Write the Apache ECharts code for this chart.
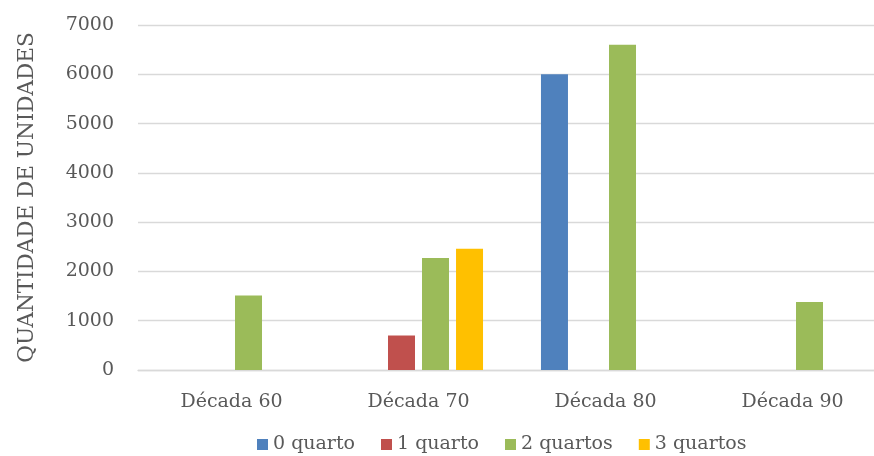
<!DOCTYPE html>
<html>
<head>
<meta charset="utf-8">
<script src="https://cdn.jsdelivr.net/npm/echarts@6/dist/echarts.min.js"></script>
<style>html,body{margin:0;padding:0;background:#fff}#c{width:874px;height:456px}</style>
</head>
<body>
<div id="c"></div>
<script>
const categories = ['Década 60', 'Década 70', 'Década 80', 'Década 90'];
const seriesNames = ['0 quarto', '1 quarto', '2 quartos', '3 quartos'];
const q0 = [null, null, 6000, null];
const q1 = [null, 700, null, null];
const q2 = [1510, 2270, 6600, 1380];
const q3 = [null, 2460, null, null];
const colors = ['#4F81BD', '#C0504D', '#9BBB59', '#FFC000'];
const yTicks = { min: 0, max: 7000, interval: 1000 };
const yTitle = 'QUANTIDADE DE UNIDADES';

const font = 'DejaVu Serif';
const txt = '#595959';
const chart = echarts.init(document.getElementById('c'), null, { renderer: 'canvas' });
const values = [q0, q1, q2, q3];
chart.setOption({
  animation: false,
  color: colors,
  grid: { left: 138, width: 748, top: 25, bottom: 86, containLabel: false, outerBoundsMode: 'none' },
  legend: {
    data: seriesNames,
    bottom: -3,
    left: 252,
    itemWidth: 11,
    itemHeight: 11,
    itemGap: 26,
    icon: 'rect',
    textStyle: { fontFamily: font, fontSize: 19, color: txt }
  },
  xAxis: {
    type: 'category',
    data: categories,
    axisLine: { lineStyle: { color: '#d9d9d9', width: 1.3 } },
    axisTick: { show: false },
    axisLabel: { fontFamily: font, fontSize: 19, color: txt, margin: 23 }
  },
  yAxis: {
    type: 'value',
    min: yTicks.min, max: yTicks.max, interval: yTicks.interval,
    name: yTitle,
    nameLocation: 'middle',
    nameRotate: 90,
    nameGap: 100,
    nameTextStyle: { fontFamily: font, fontSize: 21.5, color: txt },
    axisLine: { show: false },
    axisTick: { show: false },
    splitLine: { lineStyle: { color: '#d9d9d9', width: 1.3 } },
    axisLabel: { fontFamily: font, fontSize: 19, color: txt, margin: 24, formatter: v => String(v) }
  },
  series: seriesNames.map((n, i) => ({
    name: n,
    type: 'bar',
    data: values[i],
    barWidth: 27,
    barGap: '26%',
    itemStyle: { color: colors[i] }
  }))
});
</script>
</body>
</html>
